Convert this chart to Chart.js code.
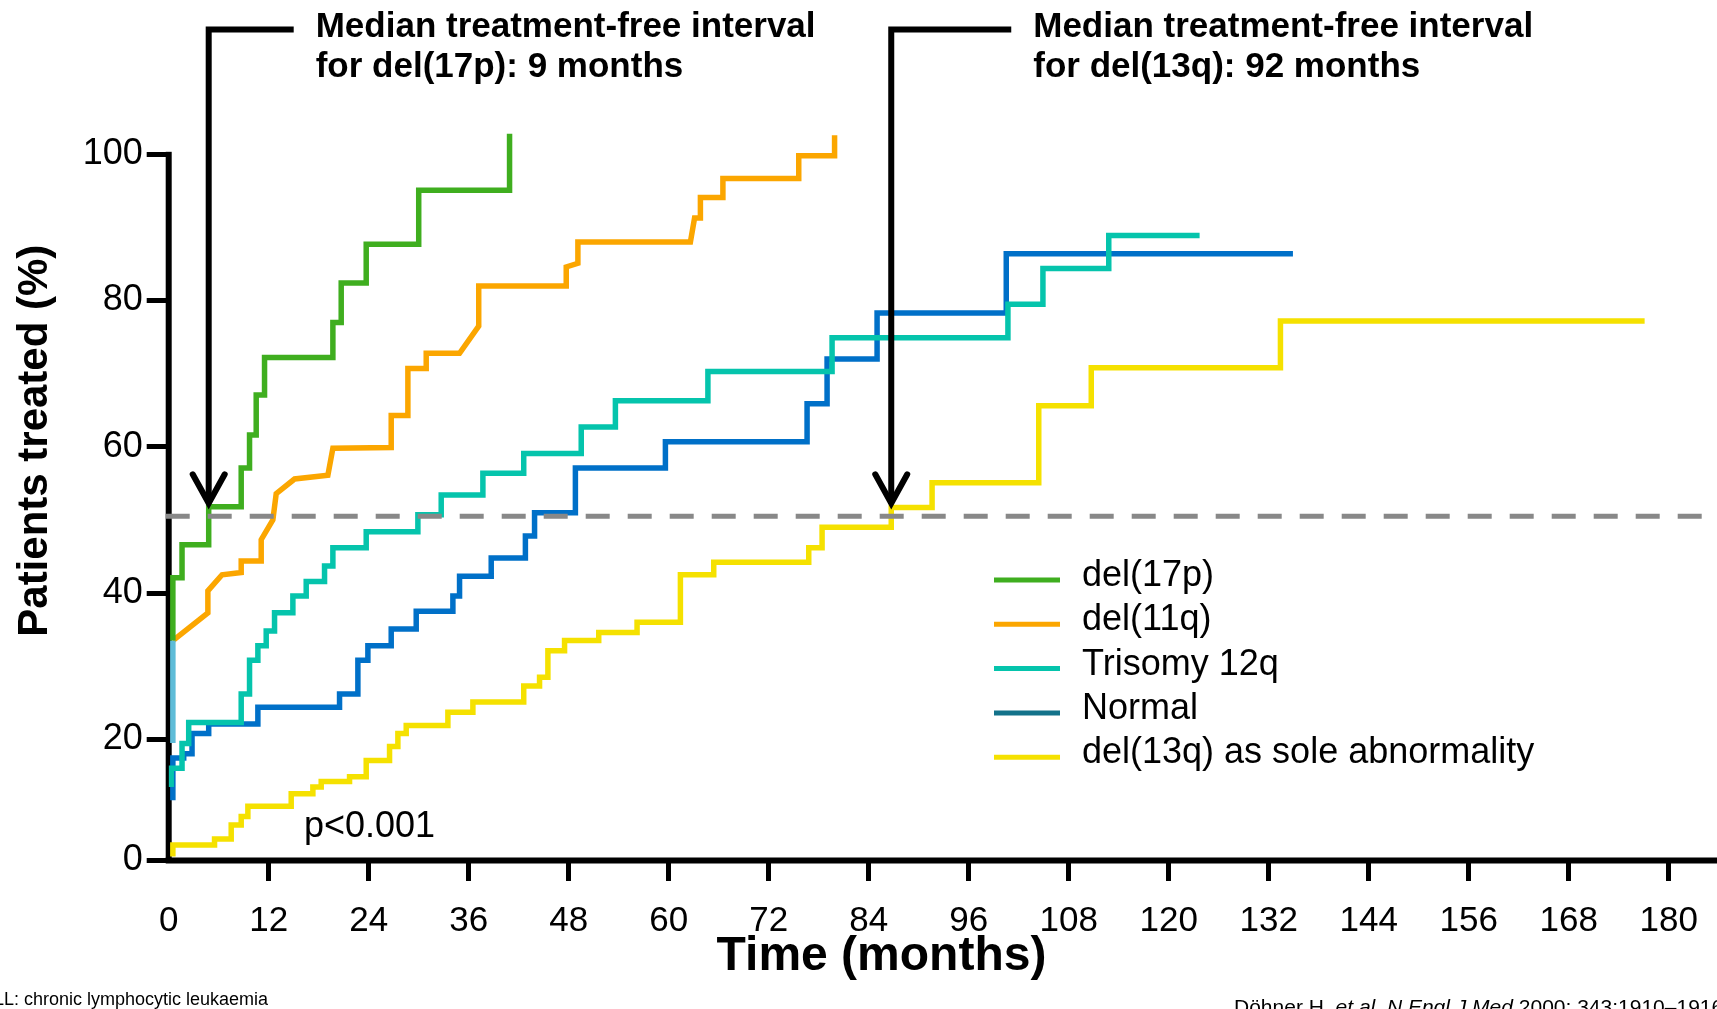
<!DOCTYPE html>
<html>
<head>
<meta charset="utf-8">
<title>Treatment-free interval by genomic aberration</title>
<script src="https://cdn.jsdelivr.net/npm/chart.js@4.4.1/dist/chart.umd.min.js"></script>
<style>
  html, body { margin: 0; padding: 0; background: #fff; overflow: hidden; }
  #wrap { position: relative; width: 1717px; height: 1009px; }
</style>
</head>
<body>
<div id="wrap"><canvas id="chart"></canvas></div>
<script>
// ---- axis ticks ----
const monthTicks = [0, 12, 24, 36, 48, 60, 72, 84, 96, 108, 120, 132, 144, 156, 168, 180];
const pctTicks = [0, 20, 40, 60, 80, 100];

// ---- cumulative % of patients treated; each point is the level reached at that month ----
const del17pMonths = [0.5, 0.5, 0.5, 1.6, 4.8, 8.7, 9.7, 10.5, 11.5, 19.7, 20.7, 23.7, 30.0, 40.9];
const del17pPct    = [19.4, 33.5, 42.1, 46.6, 51.8, 57.1, 61.6, 67.1, 72.2, 77.0, 82.4, 87.7, 95.1, 102.8];

// del(11q) curve vertices (this curve has a few sloped segments)
const del11qMonths = [0.5, 4.7, 4.7, 6.4, 8.7, 8.7, 11.1, 11.1, 12.5, 12.9, 15.1, 19.1, 19.7, 26.7, 26.7, 28.7, 28.7, 30.9,
                      30.9, 34.9, 37.2, 37.2, 47.7, 47.7, 49.1, 49.1, 62.6, 63.1, 63.8, 63.8, 66.5, 66.5, 75.6, 75.6, 79.9, 79.9];
const del11qPct    = [33.5, 37.3, 40.3, 42.5, 42.8, 44.4, 44.4, 47.3, 50.0, 53.6, 55.6, 56.1, 59.8, 59.9, 64.3, 64.3, 70.7, 70.7,
                      72.8, 72.8, 76.5, 82.0, 82.0, 84.6, 85.1, 88.0, 88.0, 91.3, 91.3, 94.1, 94.1, 96.7, 96.7, 99.8, 99.8, 102.6];

const tri12Months = [0.3, 0.3, 1.6, 2.4, 8.7, 9.7, 10.7, 11.7, 12.7, 14.9, 16.5, 18.7, 19.7, 23.7, 29.9, 32.7, 37.7, 42.6,
                     49.5, 53.6, 64.7, 79.6, 100.7, 104.9, 112.8, 123.7];
const tri12Pct    = [12.1, 15.2, 19.3, 22.3, 26.2, 30.8, 32.8, 34.8, 37.3, 39.6, 41.6, 43.7, 46.2, 48.4, 50.7, 53.4, 56.4, 59.1,
                     62.7, 66.3, 70.3, 74.9, 79.5, 84.4, 88.9, 88.9];

const normalMonths = [0.5, 0.5, 1.8, 2.8, 4.8, 10.7, 20.5, 22.7, 23.9, 26.7, 29.7, 34.1, 34.9, 38.7, 42.8, 43.9, 48.8, 59.6,
                      76.6, 79.0, 85.0, 100.5, 134.9];
const normalPct    = [9.9, 16.9, 17.6, 20.8, 22.1, 24.4, 26.2, 30.8, 32.8, 35.1, 37.5, 39.6, 42.3, 44.8, 47.8, 51.0, 57.1, 60.7,
                      65.9, 72.0, 78.3, 86.4, 86.4];

const del13qMonths = [0.5, 0.5, 5.5, 7.5, 8.7, 9.5, 14.7, 17.3, 18.3, 21.7, 23.7, 26.5, 27.5, 28.5, 33.5, 36.5, 42.6, 44.5,
                      45.5, 47.5, 51.6, 56.2, 61.4, 65.4, 76.8, 78.4, 86.7, 91.6, 104.4, 110.7, 133.4, 177.1];
const del13qPct    = [0.6, 2.5, 3.5, 5.8, 7.2, 8.9, 11.0, 12.1, 13.0, 13.8, 16.5, 18.8, 20.8, 21.9, 23.7, 25.1, 27.3, 28.5,
                      32.1, 33.5, 34.6, 36.0, 42.5, 44.2, 46.2, 49.0, 51.7, 55.1, 65.6, 70.8, 77.2, 77.2];

const seriesLabels = ['del(17p)', 'del(11q)', 'Trisomy 12q', 'Normal', 'del(13q) as sole abnormality'];

// level of the dashed median reference line (%)
const medianLevel = 50.5;

const medianNotes = [
  { series: 0, lines: ['Median treatment-free interval', 'for del(17p): 9 months'] },
  { series: 4, lines: ['Median treatment-free interval', 'for del(13q): 92 months'] }
];
const pValueText = 'p<0.001';
const footLeft = 'CLL: chronic lymphocytic leukaemia';

// ---- styling ----
const FONT = "'Liberation Sans', Arial, Helvetica, sans-serif";
Chart.defaults.font.family = FONT;
const colors = ['#3FAE1F', '#FBA600', '#05C4AC', '#0070C8', '#F5E100'];
const legendColors = ['#3FAE1F', '#FBA600', '#05C4AC', '#13728A', '#F5E100'];
const startTint = '#5EBCD8';
const noteTextGap = [107, 142];

// y axis whose first interval (0-20) is drawn compressed, as on the printed figure
const KINK_AT = 20, KINK_RATIO = 0.825;
class KinkedLinearScale extends Chart.LinearScale {
  warp(v) { return v < KINK_AT ? KINK_AT - (KINK_AT - v) * KINK_RATIO : v; }
  unwarp(u) { return u < KINK_AT ? KINK_AT - (KINK_AT - u) / KINK_RATIO : u; }
  getPixelForValue(v) {
    const a = this.warp(this.min), b = this.warp(this.max);
    return this.getPixelForDecimal((this.warp(v) - a) / (b - a));
  }
  getValueForPixel(p) {
    const a = this.warp(this.min), b = this.warp(this.max);
    return this.unwarp(a + this.getDecimalForPixel(p) * (b - a));
  }
}
KinkedLinearScale.id = 'kinkedLinear';
KinkedLinearScale.defaults = {};
Chart.register(KinkedLinearScale);

const toPoints = (xs, ys) => xs.map((x, i) => ({ x, y: ys[i] }));
const seriesData = [
  toPoints(del17pMonths, del17pPct),
  toPoints(del11qMonths, del11qPct),
  toPoints(tri12Months, tri12Pct),
  toPoints(normalMonths, normalPct),
  toPoints(del13qMonths, del13qPct)
];
const drawOrder = [1, 2, 3, 4, 5];

const datasets = seriesData.map((data, i) => ({
  label: seriesLabels[i],
  data,
  borderColor: colors[i],
  borderWidth: 5.5,
  pointRadius: 0,
  fill: false,
  tension: 0,
  stepped: i === 1 ? false : 'before',
  borderCapStyle: 'butt',
  borderJoinStyle: 'miter',
  order: drawOrder[i],
  segment: i === 0 ? { borderColor: ctx => (ctx.p0DataIndex === 0 ? startTint : undefined) } : undefined
}));

// first month at which a series reaches the median line
function medianMonth(points) {
  const hit = points.find(p => p.y >= medianLevel);
  return hit ? hit.x : null;
}

const overlay = {
  id: 'overlay',
  beforeDatasetsDraw(chart) {
    const { ctx } = chart;
    const xs = chart.scales.x, ys = chart.scales.y;
    const x0 = xs.getPixelForValue(0);
    const yBase = ys.getPixelForValue(0);
    const yTop = ys.getPixelForValue(100);
    ctx.save();
    ctx.fillStyle = '#000';
    // y axis line (up to 100)
    ctx.fillRect(x0 - 3, yTop - 2.5, 6, yBase - yTop + 5.5);
    // x axis line
    ctx.fillRect(x0 - 3, yBase - 2.5, chart.width - x0 + 3, 6);
    ctx.restore();
  },
  afterDatasetsDraw(chart) {
    const { ctx } = chart;
    const xs = chart.scales.x, ys = chart.scales.y;
    const x0 = xs.getPixelForValue(0);
    const yMed = ys.getPixelForValue(medianLevel);
    ctx.save();

    // dashed median line
    ctx.strokeStyle = '#888888';
    ctx.lineWidth = 5;
    ctx.setLineDash([24, 18]);
    ctx.beginPath();
    ctx.moveTo(x0 - 3, yMed);
    ctx.lineTo(chart.width, yMed);
    ctx.stroke();
    ctx.setLineDash([]);

    // median arrows and their notes
    const arrowTop = 29.6;
    medianNotes.forEach((note, k) => {
      const m = medianMonth(seriesData[note.series]);
      if (m === null) return;
      const xv = xs.getPixelForValue(m);
      const tip = yMed - 13;
      const textX = xv + noteTextGap[k];
      ctx.strokeStyle = '#000';
      ctx.lineWidth = 6;
      ctx.lineJoin = 'miter';
      ctx.lineCap = 'butt';
      ctx.beginPath();
      ctx.moveTo(textX - 22, arrowTop);
      ctx.lineTo(xv, arrowTop);
      ctx.lineTo(xv, tip);
      ctx.stroke();
      ctx.lineCap = 'round';
      ctx.beginPath();
      ctx.moveTo(xv - 16, tip - 29);
      ctx.lineTo(xv, tip);
      ctx.lineTo(xv + 16, tip - 29);
      ctx.stroke();
      ctx.fillStyle = '#000';
      ctx.font = 'bold 35px ' + FONT;
      ctx.textAlign = 'left';
      ctx.textBaseline = 'alphabetic';
      ctx.fillText(note.lines[0], textX, 37);
      ctx.fillText(note.lines[1], textX, 76.5);
    });

    // p value
    ctx.fillStyle = '#000';
    ctx.font = '36px ' + FONT;
    ctx.textAlign = 'left';
    ctx.textBaseline = 'alphabetic';
    ctx.fillText(pValueText, 304, 837);

    // legend
    ctx.font = '36px ' + FONT;
    ctx.textBaseline = 'middle';
    seriesLabels.forEach((lab, i) => {
      const y = 580 + i * 44.3;
      ctx.strokeStyle = legendColors[i];
      ctx.lineWidth = 5;
      ctx.lineCap = 'butt';
      ctx.beginPath();
      ctx.moveTo(994, y);
      ctx.lineTo(1060, y);
      ctx.stroke();
      ctx.fillStyle = '#000';
      ctx.fillText(lab, 1082, y - 4);
    });

    // axis titles
    ctx.fillStyle = '#000';
    ctx.font = 'bold 48px ' + FONT;
    ctx.textAlign = 'center';
    ctx.textBaseline = 'alphabetic';
    ctx.fillText('Time (months)', 881.5, 970);

    ctx.save();
    ctx.translate(47, 440.7);
    ctx.rotate(-Math.PI / 2);
    ctx.font = 'bold 42px ' + FONT;
    ctx.textAlign = 'center';
    ctx.fillText('Patients treated (%)', 0, 0);
    ctx.restore();

    // footnotes
    ctx.textAlign = 'left';
    ctx.font = '18px ' + FONT;
    ctx.fillText(footLeft, -19, 1005);
    let cx = 1234;
    const cy = 1014;
    const parts = [
      ['Döhner H, ', ''], ['et al. N Engl J Med', 'italic '], [' 2000; 343:1910–1916.', '']
    ];
    parts.forEach(([t, style]) => {
      ctx.font = style + '21px ' + FONT;
      ctx.fillText(t, cx, cy);
      cx += ctx.measureText(t).width;
    });

    ctx.restore();
  }
};

new Chart(document.getElementById('chart'), {
  type: 'line',
  data: { datasets },
  options: {
    responsive: true,
    maintainAspectRatio: false,
    animation: false,
    devicePixelRatio: 1,
    layout: { padding: { top: 21.6, left: 0, right: 0, bottom: 0 } },
    plugins: { legend: { display: false }, tooltip: { enabled: false } },
    scales: {
      x: {
        type: 'linear',
        min: 0,
        max: 185.4,
        afterBuildTicks: s => { s.ticks = monthTicks.map(v => ({ value: v })); },
        afterFit: s => { s.height = 149; },
        border: { display: false },
        grid: {
          drawOnChartArea: false,
          drawTicks: true,
          tickLength: 21,
          lineWidth: 5,
          tickWidth: 5,
          tickColor: c => (c.index === 0 ? 'rgba(0,0,0,0)' : '#000')
        },
        ticks: { color: '#000', font: { size: 35 }, padding: 19, maxRotation: 0, autoSkip: false }
      },
      y: {
        type: 'kinkedLinear',
        min: 0,
        max: 117.6,
        afterBuildTicks: s => { s.ticks = pctTicks.map(v => ({ value: v })); },
        afterFit: s => { s.width = 168.7; },
        border: { display: false },
        grid: {
          drawOnChartArea: false,
          drawTicks: true,
          tickLength: 22,
          lineWidth: 5,
          tickWidth: 5,
          tickColor: '#000'
        },
        ticks: { color: '#000', font: { size: 36 }, padding: 4, autoSkip: false }
      }
    }
  },
  plugins: [overlay]
});
</script>
</body>
</html>
